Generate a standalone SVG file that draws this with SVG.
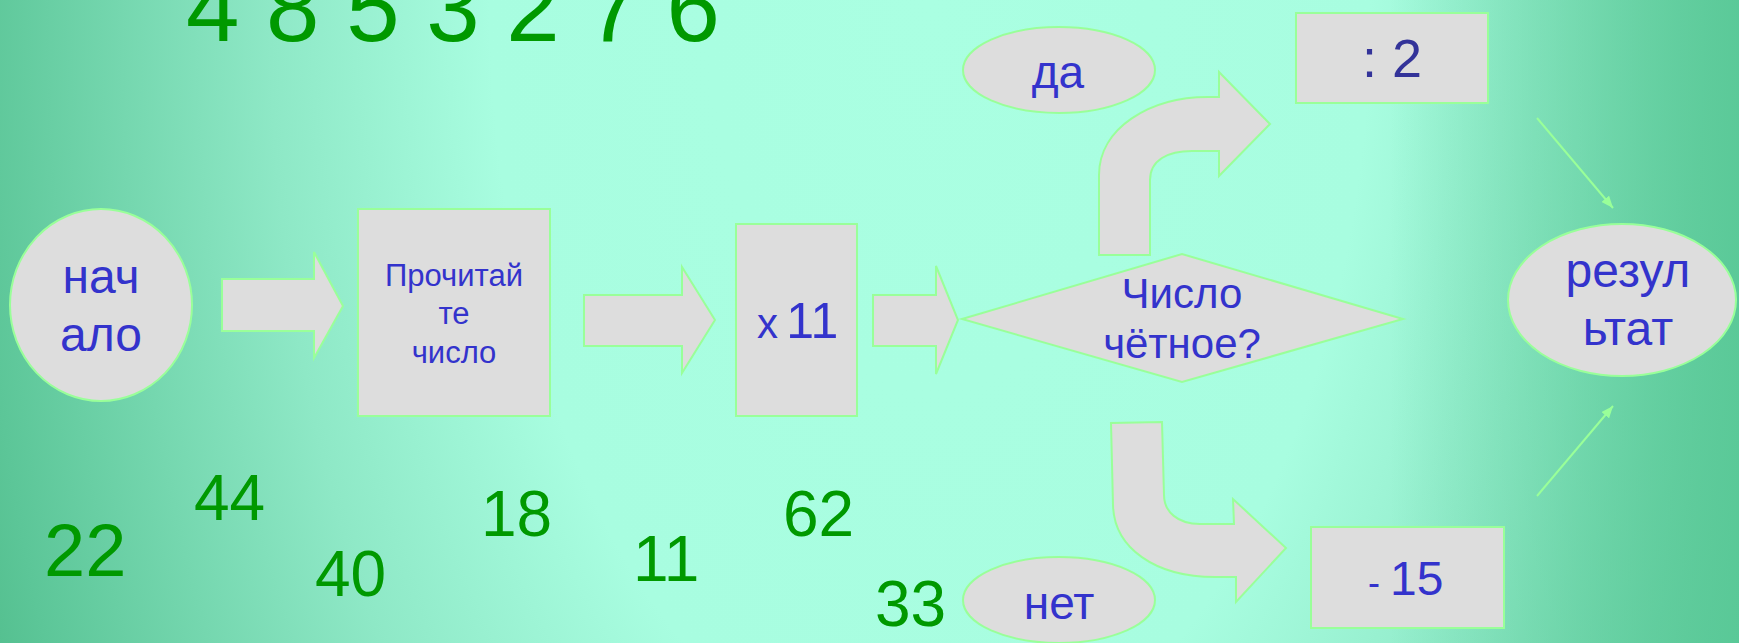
<svg xmlns="http://www.w3.org/2000/svg" width="1739" height="643" viewBox="0 0 1739 643">
<style>
.shape{fill:#dddddd;stroke:#99ff99;stroke-width:2}
.lbl{font-family:"Liberation Sans",Arial,sans-serif;fill:#3333cc;text-anchor:middle}
.num{font-family:"Liberation Sans",Arial,sans-serif;fill:#009900}
.thin{stroke:#99ff99;stroke-width:2;fill:none}
</style>
<defs>
<radialGradient id="bg" gradientUnits="userSpaceOnUse" cx="930" cy="0" r="1100" gradientTransform="translate(930 0) scale(1 1.76) translate(-930 0)">
<stop offset="0" stop-color="#aaffe2"/>
<stop offset="0.40" stop-color="#a8fde0"/>
<stop offset="0.6" stop-color="#8ee8c6"/>
<stop offset="0.87" stop-color="#5cc698"/>
<stop offset="0.96" stop-color="#4cb986"/>
</radialGradient>
<linearGradient id="bgr" gradientUnits="userSpaceOnUse" x1="1390" y1="0" x2="1739" y2="0">
<stop offset="0" stop-color="#5acb98" stop-opacity="0"/>
<stop offset="1" stop-color="#58c896" stop-opacity="0.9"/>
</linearGradient>
<marker id="ah" markerUnits="userSpaceOnUse" markerWidth="13" markerHeight="10" refX="12" refY="5" orient="auto">
<path d="M0,0 L12,5 L0,10 Z" fill="#99ff99"/>
</marker>
</defs>
<rect x="0" y="0" width="1739" height="643" fill="url(#bg)"/>
<rect x="1390" y="0" width="349" height="643" fill="url(#bgr)"/>

<g id="connectors">
<polygon class="shape" points="222,279 314,279 314,252 343,306 314,358 314,331 222,331"/>
<polygon class="shape" points="584,295 682,295 682,267 715,320 682,373 682,346 584,346"/>
<polygon class="shape" points="873,295 936,295 936,266 958,320 936,374 936,346 873,346"/>
<path class="shape" d="M1099,255 L1099,175 C1099,128 1150,97 1208,97 L1219,97 L1219,72 L1270,124 L1219,176 L1219,151 L1192,151 C1168,151 1150,160 1150,180 L1150,255 Z"/>
<path class="shape" d="M1111,423 L1113,505 C1114,548 1155,577 1215,577 L1236,577 L1236,602 L1286,548 L1233,499 L1234,524 L1200,524 C1178,524 1164,512 1164,495 L1162,422 Z"/>
<line class="thin" x1="1537" y1="118" x2="1613" y2="208" marker-end="url(#ah)"/>
<line class="thin" x1="1537" y1="496" x2="1613" y2="406" marker-end="url(#ah)"/>
</g>

<g id="node-start">
<ellipse class="shape" cx="101" cy="305" rx="91" ry="96"/>
<text class="lbl" font-size="48"><tspan x="101" y="293">нач</tspan><tspan x="101" y="351">ало</tspan></text>
</g>
<g id="node-read">
<rect class="shape" x="358" y="209" width="192" height="207"/>
<text class="lbl" font-size="31"><tspan x="454" y="286">Прочитай</tspan><tspan x="454" y="324">те</tspan><tspan x="454" y="363">число</tspan></text>
</g>
<g id="node-mult">
<rect class="shape" x="736" y="224" width="121" height="192"/>
<text class="lbl" style="text-anchor:start" x="757" y="338"><tspan font-size="42">x</tspan><tspan font-size="30"> </tspan><tspan font-size="50">11</tspan></text>
</g>
<g id="node-decision">
<polygon class="shape" points="962,319 1182,254 1403,319 1182,382"/>
<text class="lbl" font-size="42"><tspan x="1182" y="308">Число</tspan><tspan x="1182" y="358">чётное?</tspan></text>
</g>
<g id="node-yes">
<ellipse class="shape" cx="1059" cy="70" rx="96" ry="43"/>
<text class="lbl" font-size="46" x="1058" y="88">да</text>
</g>
<g id="node-no">
<ellipse class="shape" cx="1059" cy="600" rx="96" ry="43"/>
<text class="lbl" font-size="46" x="1059" y="619">нет</text>
</g>
<g id="node-div">
<rect class="shape" x="1296" y="13" width="192" height="90"/>
<text class="lbl" style="text-anchor:start;fill:#333399" font-size="54" x="1362" y="77">: 2</text>
</g>
<g id="node-sub">
<rect class="shape" x="1311" y="527" width="193" height="101"/>
<text class="lbl" style="text-anchor:start" x="1368" y="595"><tspan font-size="36">-</tspan><tspan font-size="36"> </tspan><tspan font-size="48">15</tspan></text>
</g>
<g id="node-result">
<ellipse class="shape" cx="1622" cy="300" rx="114" ry="76"/>
<text class="lbl" font-size="48"><tspan x="1628" y="287">резул</tspan><tspan x="1628" y="345">ьтат</tspan></text>
</g>

<g id="numbers">
<text class="num" font-size="96" x="186" y="41">4 8 5 3 2 7 6</text>
<text class="num" font-size="74" x="44" y="576">22</text>
<text class="num" font-size="64" x="194" y="520">44</text>
<text class="num" font-size="64" x="315" y="596">40</text>
<text class="num" font-size="64" x="481" y="536">18</text>
<text class="num" font-size="64" x="633" y="581">11</text>
<text class="num" font-size="64" x="783" y="536">62</text>
<text class="num" font-size="64" x="875" y="626">33</text>
</g>
</svg>
